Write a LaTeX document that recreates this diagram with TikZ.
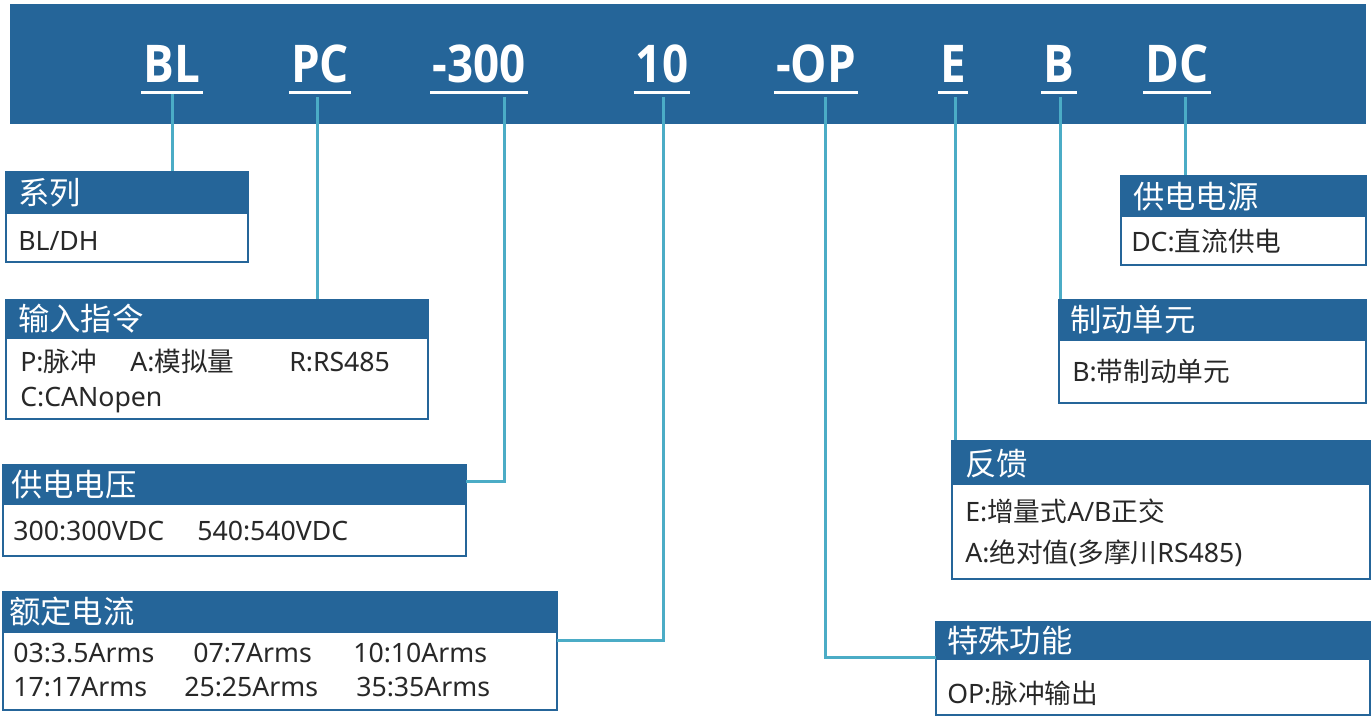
\documentclass[tikz,border=0pt]{standalone}
\usepackage{fontspec}
\usepackage{graphicx}
\usetikzlibrary{fit,calc}
\setmainfont{Noto Sans CJK SC}
\newfontfamily\cjk{Noto Sans CJK SC}
\newfontfamily\bodyfont{Noto Sans}
\newfontfamily\codefont{Open Sans}
\definecolor{hblue}{RGB}{37,101,153}
\definecolor{conncol}{RGB}{75,172,198}
\definecolor{txt}{RGB}{40,40,40}
\begin{document}
\begin{tikzpicture}[x=0.75pt,y=-0.75pt,
  box/.style={draw=hblue, line width=1.5pt, fill=white, inner sep=0},
  band/.style={fill=hblue, inner sep=0},
  ttl/.style={anchor=base west, inner sep=0, text=white, font=\cjk\fontsize{23.5}{28}\selectfont},
  bd/.style={anchor=base west, inner sep=0, text=txt, font=\bodyfont\fontsize{20}{24}\selectfont},
  code/.style={anchor=base, inner sep=0, text=white, font=\codefont\bfseries\fontsize{39}{44}\selectfont},
  uline/.style={draw=white, line width=2.25pt},
  conn/.style={draw=conncol, line width=2.25pt}]
\useasboundingbox (0,0) rectangle (1371,716);
% header bar
\node[band, fit={(10,4) (1366,124)}] (bar) {};
\node[code] (kBL) at (172,83) {\scalebox{0.88}[1]{BL}};
\node[code] (kPC) at (320,83) {\scalebox{0.88}[1]{PC}};
\node[code] (k300) at (479,83) {\scalebox{0.88}[1]{-300}};
\node[code] (k10) at (662,83) {\scalebox{0.88}[1]{10}};
\node[code] (kOP) at (816,83) {\scalebox{0.88}[1]{-OP}};
\node[code] (kE) at (953,83) {\scalebox{0.88}[1]{E}};
\node[code] (kB) at (1059,83) {\scalebox{0.88}[1]{B}};
\node[code] (kDC) at (1177,83) {\scalebox{0.88}[1]{DC}};
\foreach \n in {kBL,kPC,k300,k10,kOP,kE,kB,kDC}{
  \draw[uline] ($(\n.base west)+(-2,10)$) -- ($(\n.base east)+(2,10)$);
}
% boxes
\node[box, fit={(6,172) (248,262)}] (sys) {};
\node[band, fit={(6,172) (248,214)}] (sysh) {};
\node[box, fit={(6,300) (428,419)}] (inp) {};
\node[band, fit={(6,300) (428,339)}] (inph) {};
\node[box, fit={(3,465) (466,556)}] (vol) {};
\node[band, fit={(3,465) (466,505)}] (volh) {};
\node[box, fit={(3,592) (557,710)}] (cur) {};
\node[band, fit={(3,592) (557,633)}] (curh) {};
\node[box, fit={(1121,176) (1366,265)}] (pwr) {};
\node[band, fit={(1121,176) (1366,217)}] (pwrh) {};
\node[box, fit={(1059,300) (1366,403)}] (brk) {};
\node[band, fit={(1059,300) (1366,341)}] (brkh) {};
\node[box, fit={(952,441) (1370,579)}] (fb) {};
\node[band, fit={(952,441) (1370,485)}] (fbh) {};
\node[box, fit={(936,622) (1370,715)}] (sp) {};
\node[band, fit={(936,622) (1370,660)}] (sph) {};
% texts
\node[ttl] (t1) at (18,205) {系列};
\node[bd] (b1) at (18,251) {BL/DH};
\node[ttl] (t2) at (18,331) {输入指令};
\node[bd] (b21) at (20,372) {P:{\cjk 脉冲}};
\node[bd] (b22) at (130,372) {A:{\cjk 模拟量}};
\node[bd] (b23) at (289,372) {R:RS485};
\node[bd] (b24) at (20,407) {C:CANopen};
\node[ttl] (t3) at (11,496) {供电电压};
\node[bd] (b31) at (13,540) {300:300VDC};
\node[bd] (b32) at (197,540) {540:540VDC};
\node[ttl] (t4) at (9,623) {额定电流};
\node[bd] (b41) at (13,662) {03:3.5Arms};
\node[bd] (b42) at (193,662) {07:7Arms};
\node[bd] (b43) at (353,662) {10:10Arms};
\node[bd] (b44) at (13,696) {17:17Arms};
\node[bd] (b45) at (184,696) {25:25Arms};
\node[bd] (b46) at (356,696) {35:35Arms};
\node[ttl] (t5) at (1133,209) {供电电源};
\node[bd] (b5) at (1131,252) {DC:{\cjk 直流供电}};
\node[ttl] (t6) at (1070,332) {制动单元};
\node[bd] (b6) at (1072,382) {B:{\cjk 带制动单元}};
\node[ttl] (t7) at (965,475) {反馈};
\node[bd] (b71) at (965,521) {E:{\cjk 增量式}A/B{\cjk 正交}};
\node[bd] (b72) at (965,562) {A:{\cjk 绝对值}({\cjk 多摩川}RS485)};
\node[ttl] (t8) at (947,652) {特殊功能};
\node[bd] (b8) at (947,703) {OP:{\cjk 脉冲输出}};
% connector coordinates
\coordinate (cBL) at (172,94);
\coordinate (cPC) at (317,97);
\coordinate (c300) at (504,97);
\coordinate (c10) at (663,97);
\coordinate (cOP) at (825,97);
\coordinate (cE) at (955,97);
\coordinate (cB) at (1060,97);
\coordinate (cDC) at (1185,97);
\coordinate (j300) at (466,481);
\coordinate (j10) at (557,640);
\coordinate (jOP) at (936,657);
\draw[conn] (cBL) -- (cBL |- sys.north);
\draw[conn] (cPC) -- (cPC |- inp.north);
\draw[conn] (c300) |- (j300);
\draw[conn] (c10) |- (j10);
\draw[conn] (cOP) |- (jOP);
\draw[conn] (cE) -- (cE |- fb.north);
\draw[conn] (cB) -- (cB |- brk.north);
\draw[conn] (cDC) -- (cDC |- pwr.north);
\end{tikzpicture}
\end{document}
